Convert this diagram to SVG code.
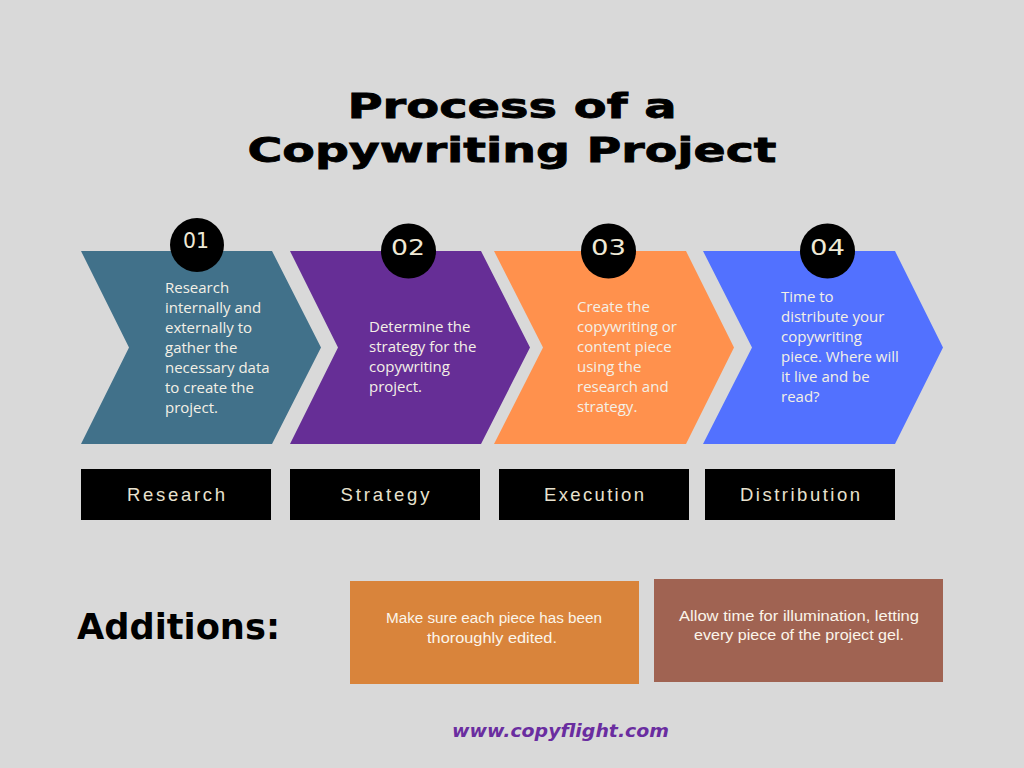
<svg xmlns="http://www.w3.org/2000/svg" width="1024" height="768" viewBox="0 0 1024 768">
<style>
.title{font-family:"DejaVu Sans",sans-serif;font-weight:bold;font-size:34px;fill:#000;stroke:#000;stroke-width:0.8}
.num{font-family:"DejaVu Sans",sans-serif;font-size:21px;fill:#efe9d6}
.body{font-family:"Open Sans","Noto Sans",sans-serif;font-size:15px;fill:#f4f0e6}
.lab{font-family:"Liberation Sans",Arial,sans-serif;font-size:18.5px;fill:#e8e2cf}
.add{font-family:"Liberation Sans",Arial,sans-serif;font-size:15.5px;fill:#fbf5ea}
.circ{fill:#000}
.box{fill:#000}
</style>
<rect width="1024" height="768" fill="#d9d9d9"/>
<g id="title">
<text class="title" x="512" y="118" text-anchor="middle" textLength="329" lengthAdjust="spacingAndGlyphs">Process of a</text>
<text class="title" x="512" y="162" text-anchor="middle" textLength="529" lengthAdjust="spacingAndGlyphs">Copywriting Project</text>
</g>
<g id="step1">
<polygon points="81,251 272,251 321,347.5 272,444 81,444 129,347.5" fill="#41718a"/>
<circle class="circ" cx="197" cy="245" r="27"/>
<text class="num" x="196" y="248" text-anchor="middle" textLength="26" lengthAdjust="spacingAndGlyphs">01</text>
<text class="body" x="165" y="293">Research</text>
<text class="body" x="165" y="313">internally and</text>
<text class="body" x="165" y="333">externally to</text>
<text class="body" x="165" y="353">gather the</text>
<text class="body" x="165" y="373">necessary data</text>
<text class="body" x="165" y="393">to create the</text>
<text class="body" x="165" y="413">project.</text>
</g>
<g id="step2">
<polygon points="290,251 481,251 530,347.5 481,444 290,444 338,347.5" fill="#662e96"/>
<circle class="circ" cx="408.5" cy="251" r="27.5"/>
<text class="num" x="408" y="255" text-anchor="middle" textLength="34" lengthAdjust="spacingAndGlyphs">02</text>
<text class="body" x="369" y="332">Determine the</text>
<text class="body" x="369" y="352">strategy for the</text>
<text class="body" x="369" y="372">copywriting</text>
<text class="body" x="369" y="392">project.</text>
</g>
<g id="step3">
<polygon points="494,251 686,251 734,347.5 686,444 494,444 543,347.5" fill="#ff914d"/>
<circle class="circ" cx="608.5" cy="251" r="27.5"/>
<text class="num" x="608.5" y="255" text-anchor="middle" textLength="35" lengthAdjust="spacingAndGlyphs">03</text>
<text class="body" x="577" y="312">Create the</text>
<text class="body" x="577" y="332">copywriting or</text>
<text class="body" x="577" y="352">content piece</text>
<text class="body" x="577" y="372">using the</text>
<text class="body" x="577" y="392">research and</text>
<text class="body" x="577" y="412">strategy.</text>
</g>
<g id="step4">
<polygon points="703,251 895,251 943,347.5 895,444 703,444 752,347.5" fill="#5271ff"/>
<circle class="circ" cx="827.5" cy="251" r="27.5"/>
<text class="num" x="827.5" y="255" text-anchor="middle" textLength="35" lengthAdjust="spacingAndGlyphs">04</text>
<text class="body" x="781" y="302">Time to</text>
<text class="body" x="781" y="322">distribute your</text>
<text class="body" x="781" y="342">copywriting</text>
<text class="body" x="781" y="362">piece. Where will</text>
<text class="body" x="781" y="382">it live and be</text>
<text class="body" x="781" y="402">read?</text>
</g>
<g id="label-research">
<rect class="box" x="81" y="469" width="190" height="51"/>
<text class="lab" x="176" y="501" text-anchor="middle" textLength="98" lengthAdjust="spacing">Research</text>
</g>
<g id="label-strategy">
<rect class="box" x="290" y="469" width="190" height="51"/>
<text class="lab" x="385" y="501" text-anchor="middle" textLength="89" lengthAdjust="spacing">Strategy</text>
</g>
<g id="label-execution">
<rect class="box" x="499" y="469" width="190" height="51"/>
<text class="lab" x="594" y="501" text-anchor="middle" textLength="100" lengthAdjust="spacing">Execution</text>
</g>
<g id="label-distribution">
<rect class="box" x="705" y="469" width="190" height="51"/>
<text class="lab" x="800" y="501" text-anchor="middle" textLength="120" lengthAdjust="spacing">Distribution</text>
</g>
<g id="additions-title">
<text x="77" y="639" font-family="DejaVu Sans, sans-serif" font-weight="bold" font-size="35" fill="#000" textLength="203" lengthAdjust="spacingAndGlyphs">Additions:</text>
</g>
<g id="addition1">
<rect x="350" y="581" width="289" height="103" fill="#d9843b"/>
<text class="add" x="494" y="623" text-anchor="middle" textLength="216" lengthAdjust="spacingAndGlyphs">Make sure each piece has been</text>
<text class="add" x="492" y="643" text-anchor="middle" textLength="130" lengthAdjust="spacingAndGlyphs">thoroughly edited.</text>
</g>
<g id="addition2">
<rect x="654" y="579" width="289" height="103" fill="#a06352"/>
<text class="add" x="799" y="621" text-anchor="middle" textLength="240" lengthAdjust="spacingAndGlyphs">Allow time for illumination, letting</text>
<text class="add" x="799" y="640" text-anchor="middle" textLength="210" lengthAdjust="spacingAndGlyphs">every piece of the project gel.</text>
</g>
<g id="footer">
<text x="560.5" y="737" text-anchor="middle" font-family="DejaVu Sans, sans-serif" font-weight="bold" font-style="italic" font-size="17" fill="#6a2da0" textLength="217" lengthAdjust="spacingAndGlyphs">www.copyflight.com</text>
</g>
</svg>
